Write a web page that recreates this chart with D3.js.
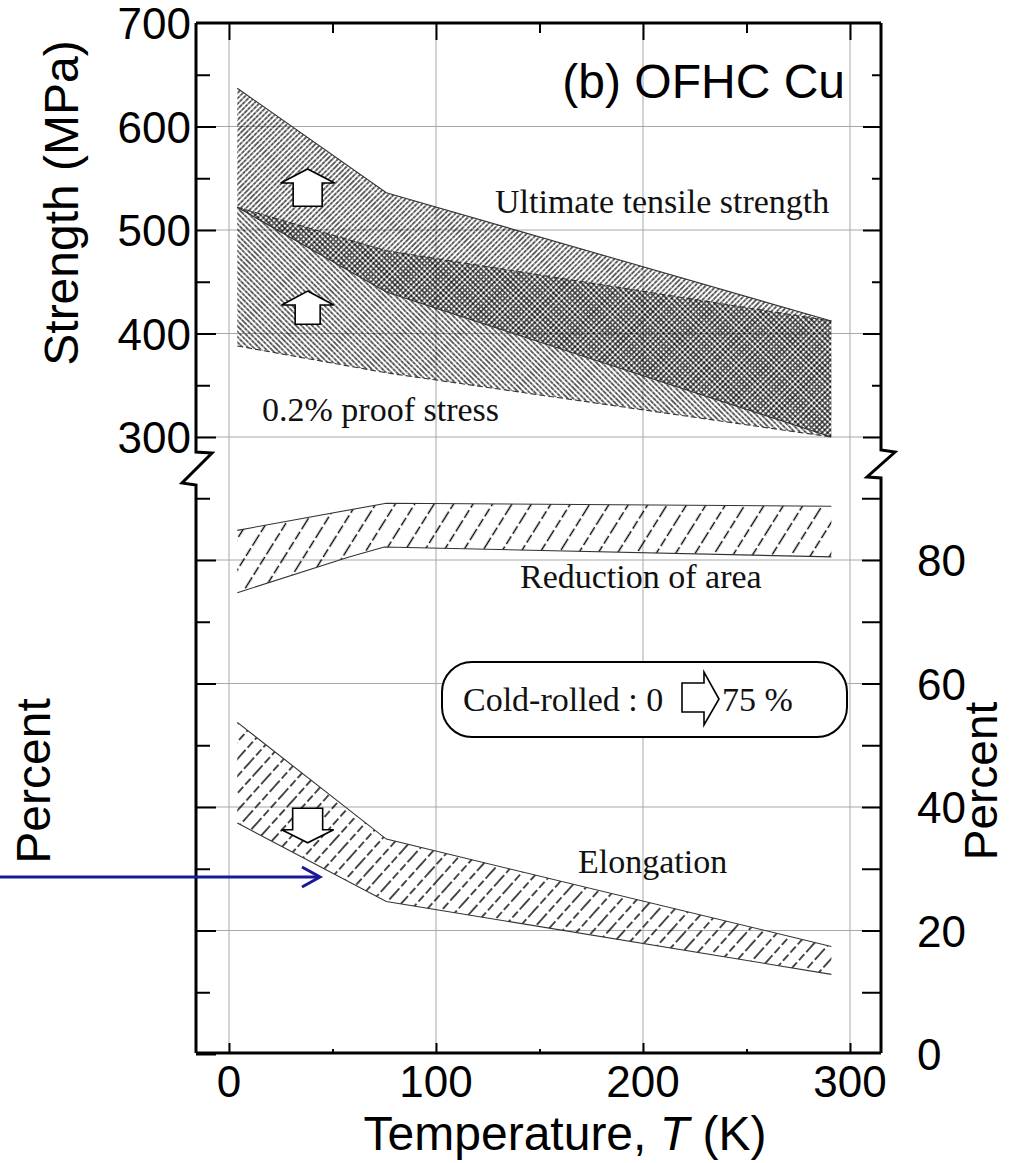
<!DOCTYPE html>
<html>
<head>
<meta charset="utf-8">
<script src="https://cdn.jsdelivr.net/npm/d3@7"></script>
<style>
  body { margin: 0; background: #fff; }
  .sans { font-family: "Liberation Sans", Arial, sans-serif; }
  .serif { font-family: "Liberation Serif", "Times New Roman", serif; }
</style>
</head>
<body>
<div id="chart"></div>
<script>
// ---- data ----
const temps = [4, 76, 291];
const utsHigh = [637, 536, 412];
const utsLow = [522, 440, 300];
const proofHigh = [522, 480, 412];
const proofLow = [388, 362, 300];

const raTempsHigh = [4, 76, 291];
const raHigh = [84.8, 89.2, 88.7];
const raTempsLow = [4, 58, 75, 291];
const raLow = [74.7, 80.5, 82.1, 80.5];

const elongHigh = [53.7, 34.8, 17.4];
const elongLow = [37.4, 24.7, 12.9];

const tempTicks = [0, 100, 200, 300];
const tempMinor = [50, 150, 250];
const strengthTicks = [300, 400, 500, 600, 700];
const strengthMinor = [350, 450, 550, 650];
const pctTicks = [0, 20, 40, 60, 80];
const pctMinor = [10, 30, 50, 70, 90];

const width = 1009, height = 1163;
const fLeft = 196, fRight = 881, fTop = 23, fBottom = 1053;

const svg = d3.select("#chart").append("svg")
    .attr("width", width)
    .attr("height", height);

const x = d3.scaleLinear().domain([0, 300]).range([229, 850]);
const yS = d3.scaleLinear().domain([300, 700]).range([437, 23]);
const yP = d3.scaleLinear().domain([0, 80]).range([1054, 560]);

// hatch patterns
const defs = svg.append("defs");
function hatch(id, spacing, angle, sw, dash) {
    const p = defs.append("pattern")
        .attr("id", id)
        .attr("patternUnits", "userSpaceOnUse")
        .attr("width", spacing)
        .attr("height", 40)
        .attr("patternTransform", `rotate(${angle})`);
    const l = p.append("line")
        .attr("x1", spacing / 2).attr("x2", spacing / 2)
        .attr("y1", 0).attr("y2", 40)
        .attr("stroke", "#000")
        .attr("stroke-width", sw);
    if (dash) l.attr("stroke-dasharray", dash);
}
hatch("utsHatch", 3.8, 45, 1.2, "4,0.6");
hatch("proofHatch", 3.8, -45, 1.2, "4,0.6");
hatch("raHatch", 16.5, 32, 1.4, "9,3");
hatch("elHatch", 11.5, 42, 1.4, "8,3");

// grid
const grid = svg.append("g").attr("stroke", "#a8a8a8").attr("stroke-width", 1);
grid.selectAll(".vg").data(tempTicks).enter().append("line")
    .attr("x1", d => x(d)).attr("x2", d => x(d))
    .attr("y1", fTop).attr("y2", fBottom);
grid.selectAll(".hs").data([300, 400, 500, 600]).enter().append("line")
    .attr("x1", fLeft).attr("x2", fRight)
    .attr("y1", d => yS(d)).attr("y2", d => yS(d));
grid.selectAll(".hp").data([20, 40, 60, 80]).enter().append("line")
    .attr("x1", fLeft).attr("x2", fRight)
    .attr("y1", d => yP(d)).attr("y2", d => yP(d));

// bands
const line = d3.line();
function band(tHigh, high, tLow, low, ys) {
    const up = tHigh.map((t, i) => [x(t), ys(high[i])]);
    const lo = tLow.map((t, i) => [x(t), ys(low[i])]).reverse();
    return line(up.concat(lo)) + "Z";
}
function edge(ts, vals, ys) {
    return line(ts.map((t, i) => [x(t), ys(vals[i])]));
}

svg.append("path").attr("d", band(temps, utsHigh, temps, utsLow, yS))
    .attr("fill", "url(#utsHatch)");
svg.append("path").attr("d", band(temps, proofHigh, temps, proofLow, yS))
    .attr("fill", "url(#proofHatch)");
svg.append("path").attr("d", band(raTempsHigh, raHigh, raTempsLow, raLow, yP))
    .attr("fill", "url(#raHatch)");
svg.append("path").attr("d", band(temps, elongHigh, temps, elongLow, yP))
    .attr("fill", "url(#elHatch)");

const edges = svg.append("g").attr("fill", "none").attr("stroke", "#333").attr("stroke-width", 1.1);
edges.append("path").attr("d", edge(temps, utsHigh, yS));
edges.append("path").attr("d", edge(temps, utsLow, yS));
edges.append("path").attr("d", edge(temps, proofHigh, yS)).attr("stroke-dasharray", "6,3");
edges.append("path").attr("d", edge(temps, proofLow, yS)).attr("stroke-dasharray", "6,3");
edges.append("path").attr("d", edge(raTempsHigh, raHigh, yP));
edges.append("path").attr("d", edge(raTempsLow, raLow, yP));
edges.append("path").attr("d", edge(temps, elongHigh, yP));
edges.append("path").attr("d", edge(temps, elongLow, yP));

// block arrows
function upArrow(cx, ty, by, sh, wh) {
    const wy = ty + 14;
    return `M${cx},${ty} L${cx + wh},${wy} L${cx + sh},${wy} L${cx + sh},${by} L${cx - sh},${by} L${cx - sh},${wy} L${cx - wh},${wy} Z`;
}
function downArrow(cx, ty, tip, sh, wh) {
    const wy = tip - 13;
    return `M${cx - sh},${ty} L${cx + sh},${ty} L${cx + sh},${wy} L${cx + wh},${wy} L${cx},${tip} L${cx - wh},${wy} L${cx - sh},${wy} Z`;
}
const arrows = svg.append("g").attr("fill", "#fff").attr("stroke", "#000").attr("stroke-width", 1.6);
arrows.append("path").attr("d", upArrow(x(38), yS(559), yS(523), 14.5, 27));
arrows.append("path").attr("d", upArrow(x(38), yS(441), yS(409), 12.5, 26));
arrows.append("path").attr("d", downArrow(x(38), yP(39.8), yP(34.2), 15, 26));

// frame with axis breaks
const frame = svg.append("g").attr("fill", "none").attr("stroke", "#000").attr("stroke-width", 3);
frame.append("path").attr("d", `M${fLeft},${fTop} H${fRight}`);
frame.append("path").attr("d", `M${fLeft},${fBottom} H${fRight}`);
frame.append("path").attr("d", `M${fLeft},${fTop} V452 L212,453 L182,483 L${fLeft},485 V${fBottom}`);
frame.append("path").attr("d", `M${fRight},${fTop} V450 L895,452 L867,477 L${fRight},478 V${fBottom}`);

// ticks via d3 axes
function ticks(gen, pos) {
    const g = svg.append("g").attr("transform", pos).call(gen);
    g.select(".domain").remove();
    g.selectAll(".tick line").attr("stroke", "#000").attr("stroke-width", 2);
    return g;
}
ticks(d3.axisBottom(x).tickValues(tempTicks).tickSize(-10).tickFormat(""), `translate(0,${fBottom})`);
ticks(d3.axisBottom(x).tickValues(tempMinor).tickSize(-4).tickFormat(""), `translate(0,${fBottom})`);
ticks(d3.axisTop(x).tickValues(tempTicks).tickSize(-17).tickFormat(""), `translate(0,${fTop})`);
ticks(d3.axisTop(x).tickValues(tempMinor).tickSize(-10).tickFormat(""), `translate(0,${fTop})`);
ticks(d3.axisLeft(yS).tickValues(strengthTicks.slice(0, 4)).tickSize(-20).tickFormat(""), `translate(${fLeft},0)`);
ticks(d3.axisLeft(yS).tickValues(strengthMinor).tickSize(-14).tickFormat(""), `translate(${fLeft},0)`);
ticks(d3.axisRight(yS).tickValues(strengthTicks.slice(0, 4)).tickSize(-18).tickFormat(""), `translate(${fRight},0)`);
ticks(d3.axisRight(yS).tickValues(strengthMinor).tickSize(-9).tickFormat(""), `translate(${fRight},0)`);
ticks(d3.axisLeft(yP).tickValues(pctTicks).tickSize(-20).tickFormat(""), `translate(${fLeft},0)`);
ticks(d3.axisLeft(yP).tickValues(pctMinor).tickSize(-14).tickFormat(""), `translate(${fLeft},0)`);
ticks(d3.axisRight(yP).tickValues(pctTicks.slice(1)).tickSize(-19).tickFormat(""), `translate(${fRight},0)`);
ticks(d3.axisRight(yP).tickValues(pctMinor).tickSize(-19).tickFormat(""), `translate(${fRight},0)`);

// tick labels
const lab = svg.append("g").attr("class", "sans").attr("font-size", 44).attr("fill", "#000");
lab.selectAll(".xl").data(tempTicks).enter().append("text")
    .attr("x", d => x(d)).attr("y", 1097)
    .attr("text-anchor", "middle").text(d => d);
lab.selectAll(".sl").data(strengthTicks).enter().append("text")
    .attr("x", 191).attr("y", d => yS(d) + 16)
    .attr("text-anchor", "end").text(d => d);
lab.selectAll(".pl").data(pctTicks).enter().append("text")
    .attr("x", 917).attr("y", d => yP(d) + 16)
    .attr("text-anchor", "start").text(d => d);

// axis titles
const titles = svg.append("g").attr("class", "sans").attr("font-size", 48).attr("fill", "#000");
titles.append("text").attr("transform", "translate(78,203) rotate(-90)")
    .attr("text-anchor", "middle").text("Strength (MPa)");
titles.append("text").attr("transform", "translate(50,781) rotate(-90)")
    .attr("text-anchor", "middle").text("Percent");
titles.append("text").attr("transform", "translate(997,781) rotate(-90)")
    .attr("text-anchor", "middle").attr("font-size", 46).text("Percent");
const xt = titles.append("text").attr("x", 565).attr("y", 1150).attr("text-anchor", "middle");
xt.append("tspan").text("Temperature, ");
xt.append("tspan").attr("font-style", "italic").text("T");
xt.append("tspan").text(" (K)");
titles.append("text").attr("x", 845).attr("y", 98).attr("text-anchor", "end").text("(b) OFHC Cu");

// band labels
const notes = svg.append("g").attr("class", "serif").attr("font-size", 34).attr("fill", "#111");
notes.append("text").attr("x", 495).attr("y", 213).text("Ultimate tensile strength");
notes.append("text").attr("x", 262).attr("y", 421).text("0.2% proof stress");
notes.append("text").attr("x", 520).attr("y", 588).text("Reduction of area");
notes.append("text").attr("x", 578).attr("y", 873).text("Elongation");

// cold-rolled box
svg.append("rect").attr("x", 442).attr("y", 662).attr("width", 405).attr("height", 75)
    .attr("rx", 30).attr("fill", "#fff").attr("stroke", "#000").attr("stroke-width", 2);
const boxText = svg.append("g").attr("class", "serif").attr("font-size", 34).attr("fill", "#111");
boxText.append("text").attr("x", 463).attr("y", 711).text("Cold-rolled : 0");
boxText.append("text").attr("x", 722).attr("y", 711).text("75 %");
svg.append("path")
    .attr("d", "M682,683 L704,683 L704,672 L719,699 L704,725 L704,712 L682,712 Z")
    .attr("fill", "#fff").attr("stroke", "#000").attr("stroke-width", 1.6);

// blue pointer
const blue = svg.append("g").attr("stroke", "#1a1a99").attr("stroke-width", 3).attr("fill", "none");
blue.append("line").attr("x1", 0).attr("x2", 319).attr("y1", 877).attr("y2", 877);
blue.append("path").attr("d", "M302,867 L320,877 L302,887");
</script>
</body>
</html>
